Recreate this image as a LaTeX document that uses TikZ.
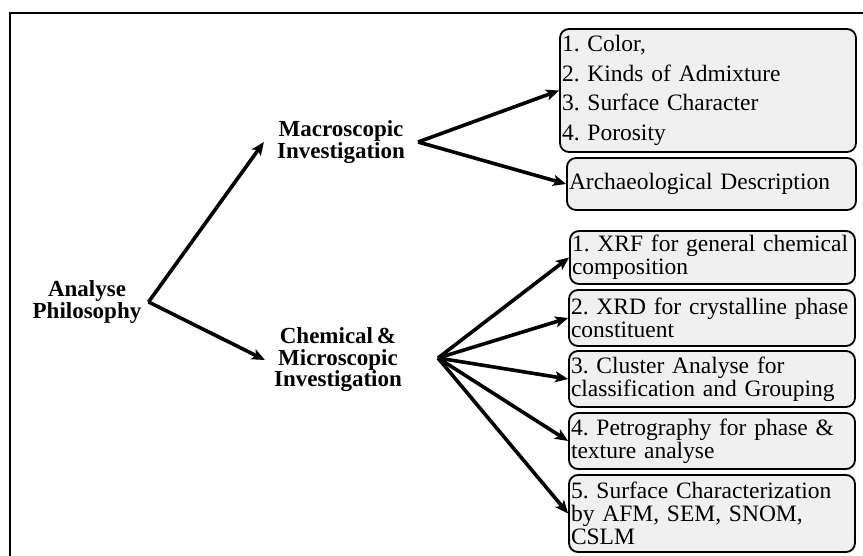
\documentclass[tikz,border=0pt]{standalone}
\usepackage{fontspec}
\setmainfont{Liberation Serif}
\usetikzlibrary{arrows.meta}
\definecolor{boxfill}{RGB}{240,240,240}
\hyphenpenalty=10000
\exhyphenpenalty=10000
\frenchspacing
\tikzset{
  itembox/.style={draw=black, line width=1.8pt, rounded corners=9pt, fill=boxfill,
    inner xsep=2pt, inner ysep=0pt, align=left,
    font=\fontsize{23.5}{23}\selectfont},
  headlabel/.style={align=center, inner ysep=0pt,
    font=\fontsize{23}{21.5}\selectfont\bfseries},
  arr/.style={line width=3.6pt, -{Stealth[length=13pt,width=11pt,inset=3pt]}},
  frame/.style={line width=2pt}
}
\begin{document}
\begin{tikzpicture}[x=1pt,y=-1pt]
\useasboundingbox (0,0) rectangle (863,556);
% outer frame (only top and left edges visible)
\draw[frame] (10,560) -- (10,13) -- (868,13);

% labels
\node[headlabel, inner xsep=7pt] (analyse) at (87,302) {Analyse\\Philosophy};
\node[headlabel, inner xsep=13pt] (macro) at (341,142) {Macroscopic\\Investigation};
\node[headlabel, inner xsep=9pt] (chem) at (338,360) {Chemical\,\&\\Microscopic\\Investigation};
\coordinate (chemhub) at (438,358);

% boxes
\node[itembox, text width=292pt, minimum height=123pt, font=\fontsize{23.5}{29.5}\selectfont]
  (color) at (708,90.5) {1. Color,\\2. Kinds of Admixture\\3. Surface Character\\4. Porosity};
\node[itembox, text width=285pt, minimum height=52pt] (arch) at (711.5,184) {Archaeological Description};
\node[itembox, text width=281pt, minimum height=53pt] (xrf) at (712.5,257.5) {1. XRF for general chemical\\composition};
\node[itembox, text width=282pt, minimum height=56pt] (xrd) at (712,318) {2. XRD for crystalline phase\\constituent};
\node[itembox, text width=282pt, minimum height=56pt] (clu) at (712,379) {3. Cluster Analyse for\\classification and Grouping};
\node[itembox, text width=282pt, minimum height=56pt] (pet) at (712,441) {4. Petrography for phase \&\\texture analyse};
\node[itembox, text width=282pt, minimum height=77pt] (sur) at (712,513.5) {5. Surface Characterization\\by AFM, SEM, SNOM,\\CSLM};

% connectors
\draw[arr] (analyse.east) -- (macro.west);
\draw[arr] (analyse.east) -- (chem.west);
\draw[arr] (macro.east) -- (color.west);
\draw[arr] (macro.east) -- (arch.west);
\draw[arr] (chemhub) -- (xrf.west);
\draw[arr] (chemhub) -- (xrd.west);
\draw[arr] (chemhub) -- (clu.west);
\draw[arr] (chemhub) -- (pet.west);
\draw[arr] (chemhub) -- (sur.west);
\end{tikzpicture}
\end{document}
